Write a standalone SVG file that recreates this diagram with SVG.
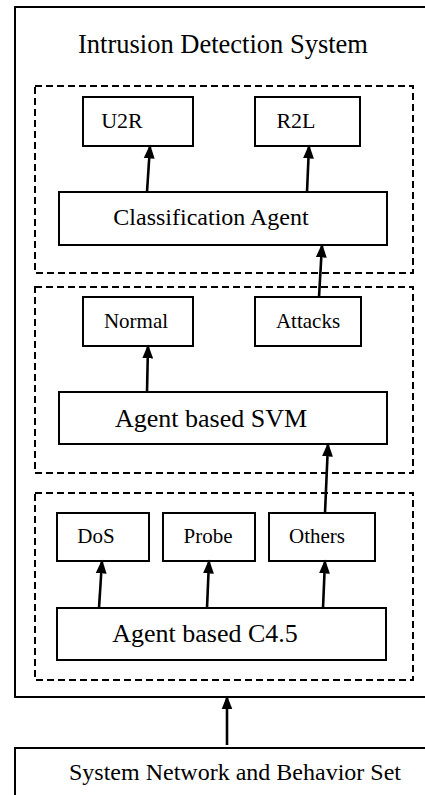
<svg xmlns="http://www.w3.org/2000/svg" width="425" height="795" viewBox="0 0 425 795">
  <style>
    .frame { fill: #fff; stroke: #000; stroke-width: 2; }
    .group { fill: none; stroke: #000; stroke-width: 2; stroke-dasharray: 7 4; }
    .box { fill: #fff; stroke: #000; stroke-width: 2; }
    .lbl { font-family: "Liberation Serif", "Times New Roman", serif; fill: #000; text-anchor: middle; }
    .edge { stroke: #000; stroke-width: 2.6; fill: none; marker-end: url(#head); }
  </style>
  <defs>
    <marker id="head" markerUnits="userSpaceOnUse" markerWidth="14" markerHeight="18" refX="16" refY="7" orient="auto" viewBox="0 0 18 14">
      <polygon points="0,0 18,7 0,14" fill="#000"/>
    </marker>
  </defs>
  <rect width="425" height="795" fill="#fff"/>

  <!-- system boundary -->
  <g id="ids">
    <rect class="frame" x="15" y="7" width="420" height="690"/>
    <text class="lbl" x="223" y="53" font-size="26.5">Intrusion Detection System</text>
  </g>

  <!-- layer groupings -->
  <g id="layer-classification">
    <rect class="group" x="35" y="86" width="378" height="187"/>
  </g>
  <g id="layer-svm">
    <rect class="group" x="35" y="287" width="378" height="186"/>
  </g>
  <g id="layer-c45">
    <rect class="group" x="35" y="493" width="378" height="187"/>
  </g>

  <g id="u2r">
    <rect class="box" x="83" y="97" width="110" height="49"/>
    <text class="lbl" x="122" y="128" font-size="22">U2R</text>
  </g>
  <g id="r2l">
    <rect class="box" x="255" y="97" width="105" height="49"/>
    <text class="lbl" x="296" y="128" font-size="22">R2L</text>
  </g>
  <g id="classification-agent">
    <rect class="box" x="59" y="192" width="328" height="53"/>
    <text class="lbl" x="211" y="225" font-size="24">Classification Agent</text>
  </g>

  <g id="normal">
    <rect class="box" x="83" y="297" width="110" height="49"/>
    <text class="lbl" x="136" y="328" font-size="21">Normal</text>
  </g>
  <g id="attacks">
    <rect class="box" x="255" y="297" width="106" height="49"/>
    <text class="lbl" x="308" y="328" font-size="21">Attacks</text>
  </g>
  <g id="svm">
    <rect class="box" x="59" y="392" width="328" height="52"/>
    <text class="lbl" x="211" y="427" font-size="26">Agent based SVM</text>
  </g>

  <g id="dos">
    <rect class="box" x="57" y="513" width="92" height="48"/>
    <text class="lbl" x="96" y="543" font-size="21">DoS</text>
  </g>
  <g id="probe">
    <rect class="box" x="163" y="513" width="92" height="48"/>
    <text class="lbl" x="208" y="543" font-size="21">Probe</text>
  </g>
  <g id="others">
    <rect class="box" x="269" y="513" width="106" height="48"/>
    <text class="lbl" x="317" y="543" font-size="21">Others</text>
  </g>
  <g id="c45">
    <rect class="box" x="57" y="608" width="329" height="52"/>
    <text class="lbl" x="205" y="642" font-size="26">Agent based C4.5</text>
  </g>

  <g id="dataset">
    <rect class="frame" x="15" y="748" width="420" height="60"/>
    <text class="lbl" x="235" y="780" font-size="24">System Network and Behavior Set</text>
  </g>

  <!-- data flow -->
  <g id="connectors">
    <line class="edge" x1="147" y1="192" x2="150" y2="146"/>
    <line class="edge" x1="307" y1="192" x2="309" y2="146"/>
    <line class="edge" x1="319" y1="297" x2="322" y2="245"/>
    <line class="edge" x1="147" y1="392" x2="148" y2="346"/>
    <line class="edge" x1="325" y1="513" x2="328" y2="444"/>
    <line class="edge" x1="99" y1="608" x2="102" y2="561"/>
    <line class="edge" x1="207" y1="608" x2="209" y2="561"/>
    <line class="edge" x1="323" y1="608" x2="325" y2="561"/>
    <line class="edge" x1="227" y1="745" x2="227" y2="697"/>
  </g>
</svg>
